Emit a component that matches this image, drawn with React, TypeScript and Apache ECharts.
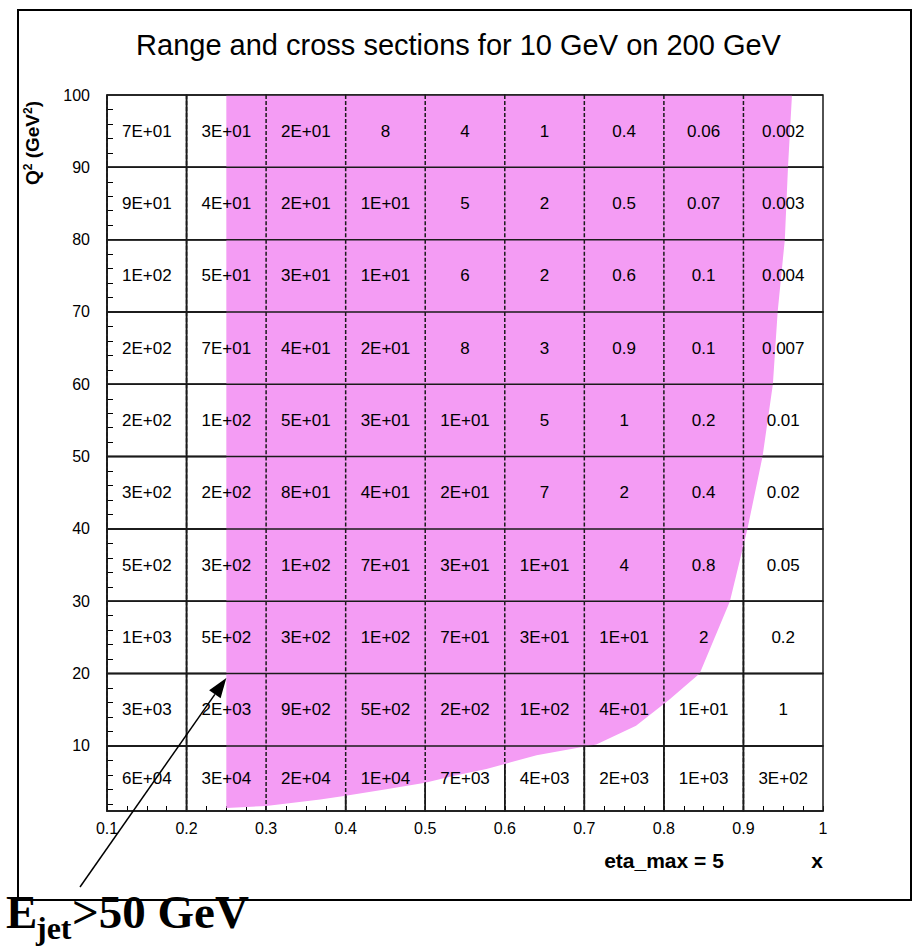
import React, { useEffect, useRef } from "react";
import * as echarts from "echarts";

const TITLE = "Range and cross sections for 10 GeV on 200 GeV";
const xEdges = [0.1, 0.2, 0.3, 0.4, 0.5, 0.6, 0.7, 0.8, 0.9, 1.0];
const q2Edges = [100, 90, 80, 70, 60, 50, 40, 30, 20, 10, 1];
const xTickLabels = ["0.1", "0.2", "0.3", "0.4", "0.5", "0.6", "0.7", "0.8", "0.9", "1"];
const yTickLabels = [10, 20, 30, 40, 50, 60, 70, 80, 90, 100];
const yMinorTicks = [2, 4, 6, 8, 12, 14, 16, 18, 22, 24, 26, 28, 32, 34, 36, 38, 42, 44, 46, 48, 52, 54, 56, 58, 62, 64, 66, 68, 72, 74, 76, 78, 82, 84, 86, 88, 92, 94, 96, 98];

const cellRows = [
  ["7E+01", "3E+01", "2E+01", "8", "4", "1", "0.4", "0.06", "0.002"],
  ["9E+01", "4E+01", "2E+01", "1E+01", "5", "2", "0.5", "0.07", "0.003"],
  ["1E+02", "5E+01", "3E+01", "1E+01", "6", "2", "0.6", "0.1", "0.004"],
  ["2E+02", "7E+01", "4E+01", "2E+01", "8", "3", "0.9", "0.1", "0.007"],
  ["2E+02", "1E+02", "5E+01", "3E+01", "1E+01", "5", "1", "0.2", "0.01"],
  ["3E+02", "2E+02", "8E+01", "4E+01", "2E+01", "7", "2", "0.4", "0.02"],
  ["5E+02", "3E+02", "1E+02", "7E+01", "3E+01", "1E+01", "4", "0.8", "0.05"],
  ["1E+03", "5E+02", "3E+02", "1E+02", "7E+01", "3E+01", "1E+01", "2", "0.2"],
  ["3E+03", "2E+03", "9E+02", "5E+02", "2E+02", "1E+02", "4E+01", "1E+01", "1"],
  ["6E+04", "3E+04", "2E+04", "1E+04", "7E+03", "4E+03", "2E+03", "1E+03", "3E+02"],
];

// Accessible region (Ejet > 50 GeV) boundary
const regionX = [0.25, 0.961, 0.956, 0.952, 0.943, 0.937, 0.924, 0.905, 0.883, 0.845, 0.807, 0.765, 0.715, 0.68, 0.64, 0.6, 0.577, 0.535, 0.5, 0.451, 0.4, 0.368, 0.3, 0.25];
const regionQ2 = [100, 100, 90, 80, 70, 60, 50, 40, 30, 20, 16.4, 12.8, 10.2, 9.5, 8.7, 7.5, 6.8, 5.85, 4.9, 4.0, 3.1, 2.6, 1.7, 1.4];

const arrowTip = [0.25, 19.4];
const annotationText = ["E", "jet", ">50 GeV"];

const PINK = "#f49cf4";
const LINE = "#1a1a1a";
const SANS = '"Liberation Sans", Arial, Helvetica, sans-serif';
const SERIF = '"Liberation Serif", "Times New Roman", serif';

export default function App() {
  const ref = useRef<HTMLDivElement>(null);
  useEffect(() => {
    const chart = echarts.init(ref.current!, null, { renderer: "svg" });
    const nCols = xEdges.length - 1;
    const cells: number[][] = [];
    cellRows.forEach((row, r) => {
      row.forEach((_, c) => {
        cells.push([(xEdges[c] + xEdges[c + 1]) / 2, (q2Edges[r] + q2Edges[r + 1]) / 2]);
      });
    });
    const cellGeom = (api: any, idx: number) => {
      const r = Math.floor(idx / nCols);
      const c = idx % nCols;
      const p0 = api.coord([xEdges[c], q2Edges[r]]);
      const p1 = api.coord([xEdges[c + 1], q2Edges[r + 1]]);
      return { r, c, p0, p1 };
    };
    const option: any = {
      animation: false,
      backgroundColor: "#fff",
      title: {
        text: TITLE,
        left: "center",
        top: 25,
        textStyle: { fontSize: 29, fontWeight: "normal", color: "#000", fontFamily: SANS },
      },
      grid: { left: 107, top: 95, width: 716, height: 716, containLabel: false },
      xAxis: {
        type: "value",
        min: 0.1,
        max: 1,
        interval: 0.1,
        axisLine: { lineStyle: { color: "#000", width: 1.5 } },
        axisTick: { inside: true, length: 5, lineStyle: { color: "#000" } },
        minorTick: { show: true, splitNumber: 4, length: 5, lineStyle: { color: "#000", width: 1 } },
        splitLine: { show: false },
        axisLabel: {
          color: "#000",
          fontSize: 16,
          fontFamily: SANS,
          margin: 9,
          formatter: (v: number) => {
            const i = Math.round(v * 10) - 1;
            return xTickLabels[i] ?? "";
          },
        },
      },
      yAxis: {
        type: "value",
        min: 1,
        max: 100,
        axisLine: { lineStyle: { color: "#000", width: 1.5 } },
        axisTick: { inside: true, length: 6, customValues: yMinorTicks, lineStyle: { color: "#000" } },
        splitLine: { show: false },
        axisLabel: {
          color: "#000",
          fontSize: 16,
          fontFamily: SANS,
          margin: 17,
          customValues: yTickLabels,
        },
      },
      series: [
        {
          type: "custom",
          z: 1,
          silent: true,
          data: cells,
          renderItem: (params: any, api: any) => {
            const { p0, p1 } = cellGeom(api, params.dataIndex);
            return {
              type: "rect",
              shape: { x: p0[0], y: p0[1], width: p1[0] - p0[0], height: p1[1] - p0[1] },
              style: { fill: "none", stroke: LINE, lineWidth: 1.5 },
            };
          },
        },
        {
          type: "custom",
          z: 2,
          silent: true,
          data: [[0.5, 50]],
          renderItem: (params: any, api: any) => ({
            type: "polygon",
            shape: { points: regionX.map((x, i) => api.coord([x, regionQ2[i]])) },
            style: { fill: PINK, stroke: "none" },
          }),
        },
        {
          type: "custom",
          z: 3,
          silent: true,
          data: cells,
          renderItem: (params: any, api: any) => {
            const { r, c, p0, p1 } = cellGeom(api, params.dataIndex);
            return {
              type: "group",
              children: [
                {
                  type: "line",
                  shape: { x1: p0[0], y1: p0[1], x2: p0[0], y2: p1[1] },
                  style: { stroke: LINE, lineWidth: 1.5, lineDash: [4, 2] },
                },
                {
                  type: "line",
                  shape: { x1: p0[0], y1: p0[1], x2: p1[0], y2: p0[1] },
                  style: { stroke: LINE, lineWidth: 1.5 },
                },
                {
                  type: "text",
                  x: (p0[0] + p1[0]) / 2,
                  y: (p0[1] + p1[1]) / 2,
                  style: {
                    text: cellRows[r][c],
                    align: "center",
                    verticalAlign: "middle",
                    fontSize: 17,
                    fontFamily: SANS,
                    fill: "#000",
                  },
                },
              ],
            };
          },
        },
      ],
    };
    chart.setOption(option);

    const tip = chart.convertToPixel({ gridIndex: 0 }, arrowTip) as number[];
    const start = [80, 887];
    const dx = tip[0] - start[0];
    const dy = tip[1] - start[1];
    const len = Math.sqrt(dx * dx + dy * dy);
    const ux = dx / len, uy = dy / len;
    const nx = -uy, ny = ux;
    const headL = 20, headW = 7;
    const bx = tip[0] - ux * headL, by = tip[1] - uy * headL;

    chart.setOption({
      graphic: [
        {
          type: "rect",
          z: 0,
          silent: true,
          shape: { x: 18, y: 10, width: 893, height: 890 },
          style: { fill: "none", stroke: "#000", lineWidth: 2 },
        },
        {
          type: "text",
          x: 32,
          y: 143,
          rotation: Math.PI / 2,
          silent: true,
          style: {
            text: "{a|Q}{s|2}{a| (GeV}{s|2}{a|)}",
            align: "center",
            verticalAlign: "middle",
            rich: {
              a: { fontSize: 19, fontWeight: "bold", fontFamily: SANS, fill: "#000", lineHeight: 21 },
              s: { fontSize: 12, fontWeight: "bold", fontFamily: SANS, fill: "#000", lineHeight: 13, verticalAlign: "top" },
            },
          },
        },
        {
          type: "text",
          x: 664,
          y: 860,
          silent: true,
          style: { text: "eta_max = 5", align: "center", verticalAlign: "middle", fontSize: 21, fontWeight: "bold", fontFamily: SANS, fill: "#000" },
        },
        {
          type: "text",
          x: 823,
          y: 860,
          silent: true,
          style: { text: "x", align: "right", verticalAlign: "middle", fontSize: 21, fontWeight: "bold", fontFamily: SANS, fill: "#000" },
        },
        {
          type: "line",
          silent: true,
          z: 10,
          shape: { x1: start[0], y1: start[1], x2: bx, y2: by },
          style: { stroke: "#000", lineWidth: 1.5 },
        },
        {
          type: "polygon",
          silent: true,
          z: 10,
          shape: {
            points: [
              [tip[0], tip[1]],
              [bx + nx * headW, by + ny * headW],
              [bx - nx * headW, by - ny * headW],
            ],
          },
          style: { fill: "#000" },
        },
        {
          type: "text",
          x: 6,
          y: 912,
          z: 20,
          silent: true,
          style: { text: annotationText[0], fontSize: 47, fontWeight: "bold", fontFamily: SERIF, fill: "#000", verticalAlign: "middle", align: "left" },
        },
        {
          type: "text",
          x: 36,
          y: 928,
          z: 20,
          silent: true,
          style: { text: annotationText[1], fontSize: 32, fontWeight: "bold", fontFamily: SERIF, fill: "#000", verticalAlign: "middle", align: "left" },
        },
        {
          type: "text",
          x: 72,
          y: 912,
          z: 20,
          silent: true,
          style: { text: annotationText[2], fontSize: 47, fontWeight: "bold", fontFamily: SERIF, fill: "#000", verticalAlign: "middle", align: "left" },
        },
      ],
    });
    return () => chart.dispose();
  }, []);
  return (
    <div
      ref={ref}
      style={{ position: "fixed", left: 0, top: 0, width: 917, height: 948, background: "#fff" }}
    />
  );
}
